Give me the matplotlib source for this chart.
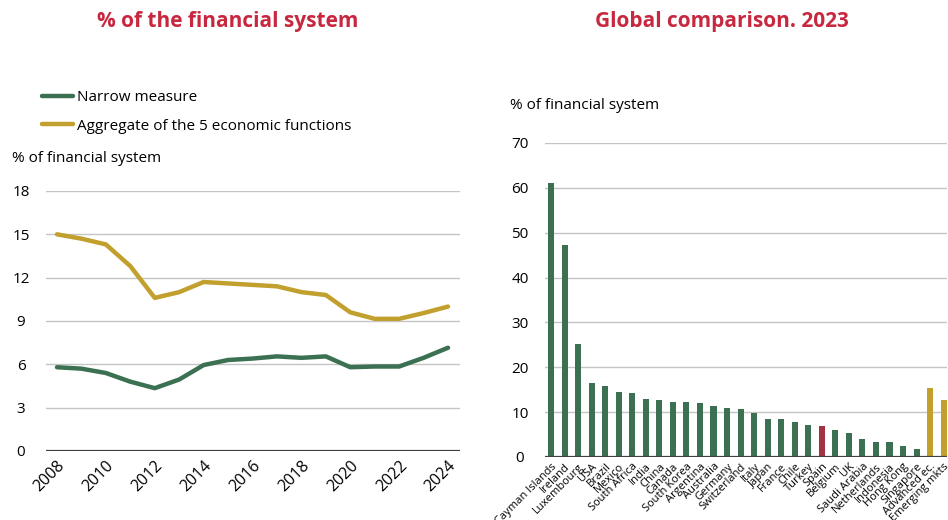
import matplotlib
matplotlib.use("Agg")
import matplotlib.pyplot as plt
from matplotlib import font_manager as fm

years = list(range(2008, 2025))
narrow = [5.8, 5.7, 5.4, 4.8, 4.35, 4.95, 5.95, 6.3, 6.4, 6.55, 6.45, 6.55, 5.8, 5.85, 5.85, 6.45, 7.15]
aggregate = [15.0, 14.7, 14.3, 12.8, 10.6, 11.0, 11.7, 11.6, 11.5, 11.4, 11.0, 10.8, 9.6, 9.15, 9.15, 9.55, 10.0]
year_ticks = list(range(2008, 2025, 2))
left_yticks = [0, 3, 6, 9, 12, 15, 18]

countries = ["Cayman Islands", "Ireland", "Luxembourg", "USA", "Brazil", "Mexico",
             "South Africa", "India", "China", "Canada", "South Korea", "Argentina",
             "Australia", "Germany", "Switzerland", "Italy", "Japan", "France", "Chile",
             "Turkey", "Spain", "Belgium", "UK", "Saudi Arabia", "Netherlands",
             "Indonesia", "Hong Kong", "Singapore", "Advanced ec.", "Emerging mkts"]
shares = [61.0, 47.2, 25.2, 16.5, 15.9, 14.6, 14.3, 13.0, 12.6, 12.3, 12.3, 12.0,
          11.4, 11.0, 10.7, 9.7, 8.4, 8.4, 7.7, 7.1, 6.8, 6.1, 5.4, 4.1, 3.4,
          3.4, 2.4, 1.8, 15.3, 12.6]
right_yticks = [0, 10, 20, 30, 40, 50, 60, 70]

GREEN = "#3B7152"
GOLD = "#C1A02E"
SPAIN = "#A23345"
TITLE_RED = "#C8283F"
GRID = "#C4C4C4"
BASE = "#404040"

names = {f.name for f in fm.fontManager.ttflist}
narrow_font = "Liberation Sans Narrow" if "Liberation Sans Narrow" in names else "Open Sans"
plt.rcParams['font.family'] = ['Open Sans', 'DejaVu Sans']

fig = plt.figure(figsize=(9.48, 5.2), dpi=100)
W, H = 948, 520

def ax_at(x0, y_top, x1, y_bot):
    return fig.add_axes([x0 / W, 1 - y_bot / H, (x1 - x0) / W, (y_bot - y_top) / H])

# Left chart
ax1 = ax_at(46, 191, 460, 451)
ax1.plot(years, narrow, color=GREEN, lw=3.2, solid_capstyle='round', label="Narrow measure")
ax1.plot(years, aggregate, color=GOLD, lw=3.2, solid_capstyle='round',
         label="Aggregate of the 5 economic functions")
ax1.set_xlim(2007.55, 2024.49)
ax1.set_ylim(0, 18)
ax1.set_yticks(left_yticks)
ax1.set_xticks(year_ticks)
ax1.set_xticklabels([str(y) for y in year_ticks], rotation=45, ha='right', va='top',
                    rotation_mode='anchor', fontsize=11.5)
ax1.tick_params(axis='x', length=0, pad=5)
ax1.tick_params(axis='y', length=0, pad=18, labelsize=11)
for lab in ax1.get_yticklabels():
    lab.set_horizontalalignment('center')
ax1.grid(axis='y', color=GRID, lw=1)
ax1.set_axisbelow(True)
for s in ax1.spines.values():
    s.set_visible(False)
ax1.axhline(0, color=BASE, lw=1.6)
fig.text(12 / W, 1 - 159 / H, "% of financial system", fontsize=11, va='center', ha='left')
leg = ax1.legend(loc='upper left', bbox_to_anchor=(42 / W, 1 - 90 / H), bbox_transform=fig.transFigure,
                 frameon=False, fontsize=11, handlelength=2.0, handletextpad=0.3, labelspacing=0.9,
                 borderaxespad=0, borderpad=0)

# Right chart
ax2 = ax_at(545, 143, 947, 457)
colors = [GREEN] * len(countries)
colors[countries.index("Spain")] = SPAIN
colors[countries.index("Advanced ec.")] = GOLD
colors[countries.index("Emerging mkts")] = GOLD
xs = list(range(len(countries)))
ax2.bar(xs, shares, width=0.45, color=colors, zorder=2)
ax2.set_xlim(-0.45, 29.25)
ax2.set_ylim(0, 70)
ax2.set_yticks(right_yticks)
ax2.set_xticks(xs)
ax2.set_xticklabels(countries, rotation=45, ha='right', va='top', rotation_mode='anchor', fontsize=8)
ax2.tick_params(axis='x', length=0, pad=3)
ax2.tick_params(axis='y', length=0, pad=18, labelsize=11)
for lab in ax2.get_yticklabels():
    lab.set_horizontalalignment('center')
ax2.grid(axis='y', color=GRID, lw=1, zorder=0)
ax2.set_axisbelow(True)
for s in ax2.spines.values():
    s.set_visible(False)
ax2.axhline(0, color=BASE, lw=1.6, zorder=3)
fig.text(510 / W, 1 - 106 / H, "% of financial system", fontsize=11, va='center', ha='left')

# Titles
fig.text(228 / W, 1 - 22 / H, "% of the financial system", fontsize=15, fontweight='bold',
         color=TITLE_RED, ha='center', va='center', family=[narrow_font, 'DejaVu Sans'])
fig.text(722 / W, 1 - 22 / H, "Global comparison. 2023", fontsize=15, fontweight='bold',
         color=TITLE_RED, ha='center', va='center', family=[narrow_font, 'DejaVu Sans'])

fig.savefig("out.png", dpi=100)
